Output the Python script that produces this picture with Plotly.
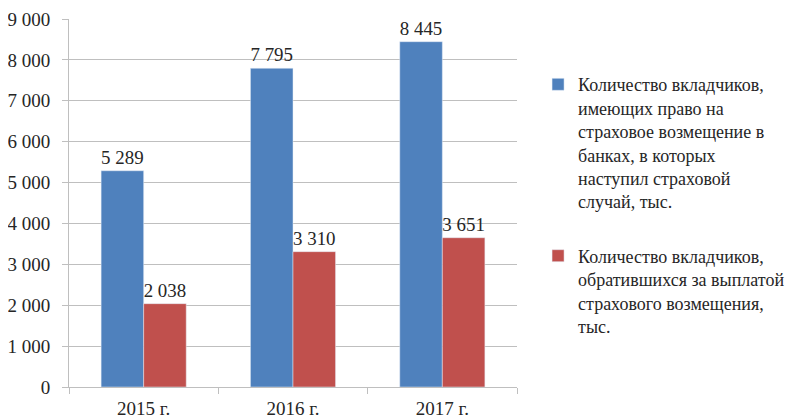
import plotly.graph_objects as go

categories = ["2015 г.", "2016 г.", "2017 г."]
entitled = [5289, 7795, 8445]
applied = [2038, 3310, 3651]
name_entitled = "Количество вкладчиков,<br>имеющих право на<br>страховое возмещение в<br>банках, в которых<br>наступил страховой<br>случай, тыс."
name_applied = "Количество вкладчиков,<br>обратившихся за выплатой<br>страхового возмещения,<br>тыс."
y_ticks = [0, 1000, 2000, 3000, 4000, 5000, 6000, 7000, 8000, 9000]

FONT = "Liberation Serif"
TXT = "#262626"
FS = 19

fig = go.Figure()
fig.add_trace(go.Bar(x=categories, y=entitled, name=name_entitled, marker_color="#4F81BD",
                     texttemplate="%{y:,d}", textposition="outside",
                     textfont=dict(family=FONT, size=FS, color=TXT), cliponaxis=False,
                     legendgroup="a"))
fig.add_trace(go.Bar(x=categories, y=applied, name=name_applied, marker_color="#C0504D",
                     texttemplate="%{y:,d}", textposition="outside",
                     textfont=dict(family=FONT, size=FS, color=TXT), cliponaxis=False,
                     legendgroup="b"))

# page body adds an 8px offset, so the figure is 8px smaller than the window
fig.update_layout(
    width=797, height=411,
    margin=dict(l=61, r=288, t=11, b=32, autoexpand=False),
    paper_bgcolor="white", plot_bgcolor="white",
    separators=", ",
    barmode="group", bargap=0.43, bargroupgap=0,
    font=dict(family=FONT, size=FS, color=TXT),
    showlegend=True,
    legend=dict(x=1.047, y=0.872, xanchor="left", yanchor="top",
                font=dict(family=FONT, size=18, color=TXT),
                valign="top", tracegroupgap=28, traceorder="grouped",
                bgcolor="rgba(0,0,0,0)"),
)
fig.update_yaxes(range=[0, 9000], tickvals=y_ticks, tickformat=",d", automargin=False,
                 showgrid=True, gridcolor="#BFBFBF", gridwidth=1,
                 showline=True, linecolor="#BFBFBF", linewidth=1,
                 ticks="outside", ticklen=6, tickcolor="#BFBFBF", ticklabelstandoff=8,
                 zeroline=False, tickfont=dict(family=FONT, size=FS, color=TXT))
fig.update_xaxes(showline=True, linecolor="#BFBFBF", linewidth=1, automargin=False,
                 ticks="outside", ticklen=6, tickcolor="#BFBFBF", tickson="boundaries",
                 ticklabelstandoff=4,
                 showgrid=False, tickfont=dict(family=FONT, size=FS, color=TXT))

fig.write_html("out.html")
